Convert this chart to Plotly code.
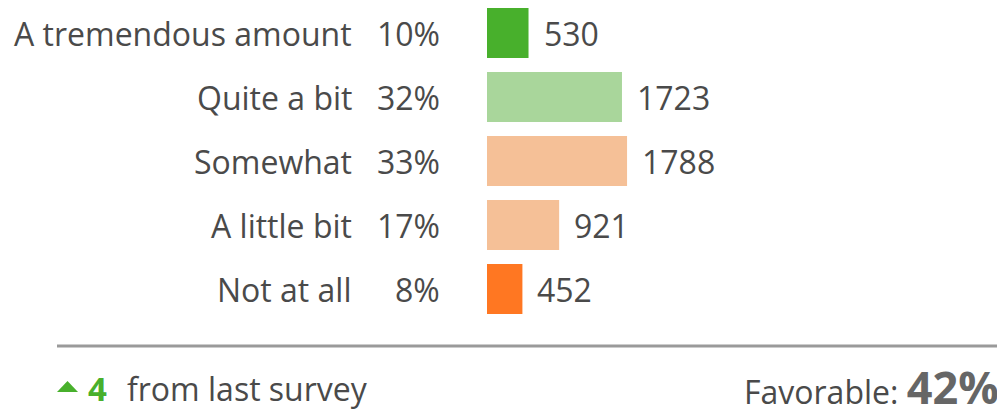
import plotly.graph_objects as go

categories = ["A tremendous amount", "Quite a bit", "Somewhat", "A little bit", "Not at all"]
counts = [530, 1723, 1788, 921, 452]
percents = ["10%", "32%", "33%", "17%", "8%"]
colors = ["#48B02C", "#A9D69B", "#F5C097", "#F5C097", "#FF7722"]
change_value = "4"
change_text = "from last survey"
favorable_label = "Favorable:"
favorable_value = "42%"

OFF = 8  # default body margin of the page
W, H = 1005 - OFF, 409 - OFF
FONT = "Open Sans"
TXT = "#4A4A4A"
FS = 32

ROW = 64.0      # pixel spacing between rows
FIRST = 33.0    # pixel centre of the first row


def px(x):
    return (x - OFF) / W


def py(y):
    return 1 - (y - OFF) / H


fig = go.Figure()
fig.add_trace(go.Bar(
    y=categories, x=counts, orientation="h", width=50 / ROW,
    marker=dict(color=colors, line=dict(width=0)),
    hoverinfo="skip", showlegend=False,
))

annotations = []
for cat, v, p in zip(categories, counts, percents):
    annotations.append(dict(x=px(354), xref="paper", y=cat, yref="y", text=cat,
                            xanchor="right", yanchor="middle", showarrow=False,
                            font=dict(family=FONT, size=FS, color=TXT)))
    annotations.append(dict(x=px(442), xref="paper", y=cat, yref="y", text=p,
                            xanchor="right", yanchor="middle", showarrow=False,
                            font=dict(family=FONT, size=FS, color=TXT)))
    annotations.append(dict(x=v, xref="x", y=cat, yref="y", text=str(v),
                            xanchor="left", yanchor="middle", showarrow=False, xshift=13,
                            font=dict(family=FONT, size=FS, color=TXT)))

yb = py(388)
annotations += [
    dict(x=px(86), xref="paper", y=yb, yref="paper", text="<b>" + change_value + "</b>",
         xanchor="left", yanchor="middle", showarrow=False,
         font=dict(family=FONT, size=33, color="#48B02C")),
    dict(x=px(125), xref="paper", y=yb, yref="paper", text=change_text, xanchor="left",
         yanchor="middle", showarrow=False, font=dict(family=FONT, size=FS, color=TXT)),
    dict(x=px(1001), xref="paper", y=py(386), yref="paper",
         text=favorable_label + " <b><span style='font-size:45px;color:#666666'>" + favorable_value + "</span></b>",
         xanchor="right", yanchor="middle", showarrow=False,
         font=dict(family=FONT, size=FS, color=TXT)),
]

tri = "M {x0},{y0} L {x1},{y0} L {xm},{y1} Z".format(
    x0=px(57), x1=px(78), xm=px(67.5), y0=py(392), y1=py(381))

y_top = -(FIRST - OFF) / ROW
y_bot = (321 - FIRST) / ROW

fig.update_layout(
    width=W, height=H,
    margin=dict(l=0, r=0, t=0, b=0),
    paper_bgcolor="white", plot_bgcolor="white",
    xaxis=dict(domain=[px(487), px(957)], range=[0, 6000], visible=False, fixedrange=True),
    yaxis=dict(domain=[py(321), 1], range=[y_bot, y_top], visible=False,
               categoryorder="array", categoryarray=categories),
    annotations=annotations,
    shapes=[
        dict(type="line", xref="paper", yref="paper", x0=px(57), x1=px(1000),
             y0=py(346), y1=py(346), line=dict(color="#9A9A9A", width=3)),
        dict(type="path", xref="paper", yref="paper", path=tri,
             fillcolor="#48B02C", line=dict(width=0)),
    ],
)

fig.write_html("out.html")
